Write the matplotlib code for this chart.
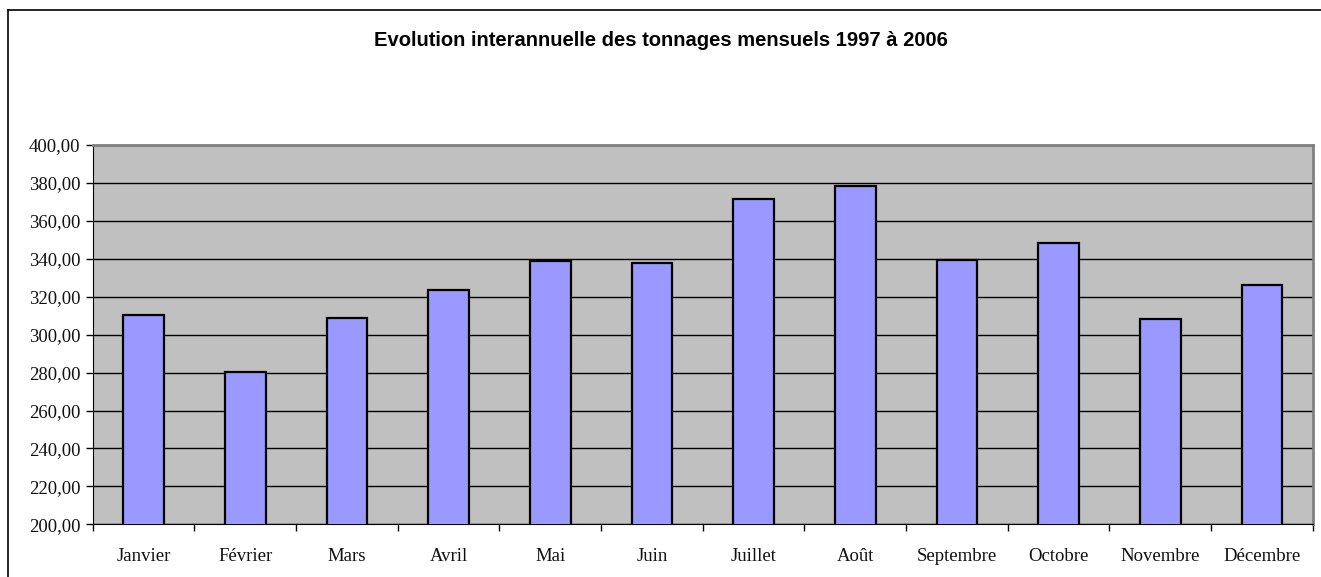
import matplotlib.pyplot as plt
import matplotlib.ticker as mticker
from matplotlib.lines import Line2D
import numpy as np

mois = ['Janvier', 'Février', 'Mars', 'Avril', 'Mai', 'Juin', 'Juillet',
        'Août', 'Septembre', 'Octobre', 'Novembre', 'Décembre']
tonnages = [310.4, 280.5, 308.6, 323.7, 339.0, 337.7, 371.3,
            378.3, 339.3, 348.4, 308.1, 326.3]
y_ticks = np.arange(200, 401, 20)

fig = plt.figure(figsize=(13.21, 5.77), dpi=100)
ax = fig.add_axes([0.0702, 0.0913, 0.9235, 0.6574])

x = np.arange(len(mois))
ax.bar(x, tonnages, width=0.4, color='#9999FF', edgecolor='black',
       linewidth=1.6, zorder=3)

ax.set_facecolor('#C0C0C0')
ax.set_xlim(-0.5, len(mois) - 0.5)
ax.set_ylim(200, 400)
ax.set_yticks(y_ticks)
ax.yaxis.set_major_formatter(mticker.FuncFormatter(lambda v, p: f'{v:.2f}'.replace('.', ',')))
ax.yaxis.grid(True, color='black', linewidth=1, zorder=0)
ax.set_axisbelow(True)

# ticks on category boundaries, labels at centres
ax.set_xticks(np.arange(-0.5, len(mois), 1.0))
ax.set_xticklabels([])
ax.set_xticks(x, minor=True)
ax.set_xticklabels(mois, minor=True)
ax.tick_params(axis='x', which='minor', length=0, pad=17)
ax.tick_params(axis='x', which='major', length=5, direction='out', width=1)
ax.tick_params(axis='y', length=5, direction='out', width=1, pad=4)

for lab in ax.get_xticklabels(minor=True) + ax.get_yticklabels():
    lab.set_fontfamily('Liberation Serif')
    lab.set_fontsize(13.5)
    lab.set_color('#111111')

ax.spines['top'].set_color('#808080')
ax.spines['right'].set_color('#808080')
ax.spines['top'].set_linewidth(2)
ax.spines['right'].set_linewidth(2)
ax.spines['left'].set_color('black')
ax.spines['bottom'].set_color('black')

fig.text(0.5, 1 - 41 / 577, 'Evolution interannuelle des tonnages mensuels 1997 à 2006',
         ha='center', va='center', fontsize=14.5, fontweight='bold',
         family='Liberation Sans')

# chart frame (cut by the image at right and bottom)
fig.add_artist(Line2D([8 / 1321, 1], [1 - 10 / 577, 1 - 10 / 577],
                      transform=fig.transFigure, color='black', linewidth=1.2))
fig.add_artist(Line2D([8 / 1321, 8 / 1321], [0, 1 - 10 / 577],
                      transform=fig.transFigure, color='black', linewidth=1.2))

fig.savefig('out.png', dpi=100)
